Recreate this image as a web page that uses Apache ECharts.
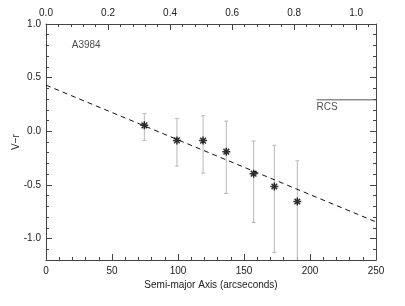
<!DOCTYPE html>
<html><head><meta charset="utf-8">
<script src="https://cdn.jsdelivr.net/npm/echarts@6/dist/echarts.min.js"></script>
<style>html,body{margin:0;padding:0;background:#fff}#c{width:405px;height:306px}</style>
</head><body><div id="c"></div>
<script>
// Data
const semiMajor = [74.5, 99.2, 119, 136.6, 157.3, 173, 190.4];
const vr = [0.055, -0.085, -0.087, -0.19, -0.395, -0.515, -0.655];
const vrHigh = [0.165, 0.12, 0.145, 0.095, -0.09, -0.13, -0.275];
const vrLow = [-0.085, -0.325, -0.39, -0.58, -0.85, -1.13, -1.3];
const fitX = [0, 250];
const fitY = [0.43, -0.845];
const rcsX = [205, 250];
const rcsY = [0.293, 0.293];
const clusterName = 'A3984';
const clusterPos = [19.5, 0.8];
const yLabelValues = [-1.0, -0.5, 0.0, 0.5, 1.0];

const pts = semiMajor.map((x, i) => [x, vr[i]]);
const errs = semiMajor.map((x, i) => [x, vrHigh[i], vrLow[i]]);
const fitLine = fitX.map((x, i) => [x, fitY[i]]);
const rcsLine = rcsX.map((x, i) => [x, rcsY[i]]);

const FONT = 'Liberation Sans';
const TXT = '#222';
const AX = '#444';
const lineStyle = {color: AX, width: 1};

const chart = echarts.init(document.getElementById('c'), null, {renderer: 'canvas'});
chart.setOption({
  animation: false,
  backgroundColor: '#fff',
  grid: {left: 46, right: 29, top: 24, bottom: 46, outerBoundsMode: 'none', containLabel: false},
  xAxis: [
    {type: 'value', position: 'bottom', min: 0, max: 250, interval: 50,
     axisLine: {show: true, onZero: false, lineStyle}, splitLine: {show: false},
     axisTick: {show: true, inside: true, length: 6, lineStyle},
     minorTick: {show: true, splitNumber: 5, length: 3, lineStyle},
     axisLabel: {color: TXT, fontFamily: FONT, fontSize: 10, margin: 6},
     name: 'Semi-major Axis (arcseconds)', nameLocation: 'middle', nameGap: 20, nameMoveOverlap: false,
     nameTextStyle: {color: TXT, fontFamily: FONT, fontSize: 10}},
    {type: 'value', position: 'top', min: 0, max: 1.064, interval: 0.2,
     axisLine: {show: true, onZero: false, lineStyle}, splitLine: {show: false},
     axisTick: {show: true, inside: true, length: 6, lineStyle},
     axisLabel: {color: TXT, fontFamily: FONT, fontSize: 10, margin: 6, showMaxLabel: false,
       formatter: v => v.toFixed(1)}},
    {type: 'value', position: 'top', min: 0, max: 1.064, interval: 0.04,
     axisLine: {show: false, onZero: false}, splitLine: {show: false},
     axisTick: {show: true, inside: true, length: 3, lineStyle},
     axisLabel: {show: false}}
  ],
  yAxis: [
    {type: 'value', position: 'left', min: -1.2, max: 1.0,
     axisLine: {show: true, onZero: false, lineStyle}, splitLine: {show: false},
     axisTick: {show: true, inside: true, length: 6, lineStyle, customValues: yLabelValues},
     axisLabel: {color: TXT, fontFamily: FONT, fontSize: 10, margin: 5, customValues: yLabelValues,
       formatter: v => v.toFixed(1)},
     name: 'V\u2212r', nameLocation: 'middle', nameGap: 25, nameRotate: 90, nameMoveOverlap: false,
     nameTextStyle: {color: TXT, fontFamily: FONT, fontSize: 10}},
    {type: 'value', position: 'left', min: -1.2, max: 1.0, interval: 0.1,
     axisLine: {show: false, onZero: false}, splitLine: {show: false},
     axisTick: {show: true, inside: true, length: 3, lineStyle},
     axisLabel: {show: false}},
    {type: 'value', position: 'right', min: -1.2, max: 1.0,
     axisLine: {show: true, onZero: false, lineStyle}, splitLine: {show: false},
     axisTick: {show: true, inside: true, length: 6, lineStyle, customValues: yLabelValues},
     axisLabel: {show: false}},
    {type: 'value', position: 'right', min: -1.2, max: 1.0, interval: 0.1,
     axisLine: {show: false, onZero: false}, splitLine: {show: false},
     axisTick: {show: true, inside: true, length: 3, lineStyle},
     axisLabel: {show: false}}
  ],
  series: [
    {type: 'line', data: fitLine, symbol: 'none', silent: true,
     lineStyle: {color: '#111', width: 1, type: [5, 4]}},
    {type: 'custom', data: errs, clip: true, silent: true,
     renderItem: (params, api) => {
       const x = api.value(0);
       const t = api.coord([x, api.value(1)]);
       const b = api.coord([x, api.value(2)]);
       const w = 2, st = {stroke: '#b8b8b8', lineWidth: 1};
       return {type: 'group', children: [
         {type: 'line', shape: {x1: t[0], y1: t[1], x2: b[0], y2: b[1]}, style: st},
         {type: 'line', shape: {x1: t[0] - w, y1: t[1], x2: t[0] + w, y2: t[1]}, style: st},
         {type: 'line', shape: {x1: b[0] - w, y1: b[1], x2: b[0] + w, y2: b[1]}, style: st}
       ]};
     }},
    {type: 'scatter', data: pts, symbolSize: 8, z: 5,
     symbol: 'path://M0,5L10,5M5,0L5,10M1.5,1.5L8.5,8.5M1.5,8.5L8.5,1.5',
     itemStyle: {color: 'transparent', borderColor: '#000', borderWidth: 1.5}},
    {type: 'line', data: rcsLine, symbol: 'none', silent: true,
     lineStyle: {color: '#555', width: 1}},
    {type: 'scatter', data: [rcsLine[0]], symbolSize: 0, silent: true,
     label: {show: true, position: 'bottom', distance: 2, align: 'left', formatter: 'RCS',
       color: TXT, fontFamily: FONT, fontSize: 10}},
    {type: 'scatter', data: [clusterPos], symbolSize: 0, silent: true,
     label: {show: true, position: 'right', distance: 0, formatter: clusterName,
       color: TXT, fontFamily: FONT, fontSize: 10}}
  ]
});
</script></body></html>
